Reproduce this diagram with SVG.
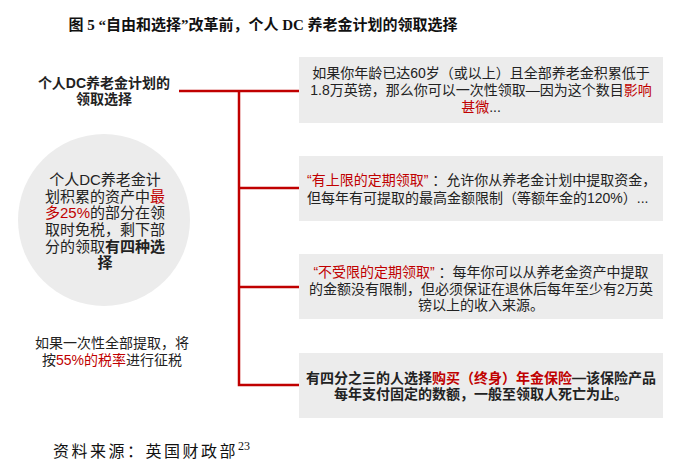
<svg xmlns="http://www.w3.org/2000/svg" width="691" height="466" viewBox="0 0 691 466">
<style>
.t{font-family:"Liberation Sans","Noto Sans CJK SC",sans-serif;font-size:14px;fill:#222}
.c{text-anchor:middle}
.r{fill:#c00000}
.b{font-weight:bold}
.box{fill:#ececec}
.ln{stroke:#c00000;stroke-width:2.5;fill:none}
.serif{font-family:"Liberation Serif","Noto Sans CJK SC",serif;fill:#111}
.ct{font-size:15px}
</style>
<rect width="691" height="466" fill="#fff"/>
<g id="title">
<text class="serif b" x="263" y="30" font-size="15" text-anchor="middle">图 5  “自由和选择”改革前，个人 DC 养老金计划的领取选择</text>
</g>
<g id="connectors">
<path class="ln" d="M179 91H299M239 91V385H299M239 188H299M239 287H299"/>
</g>
<g id="root">
<text class="t b c" x="104" y="88">个人DC养老金计划的</text>
<text class="t b c" x="104" y="104">领取选择</text>
</g>
<g id="circle">
<circle cx="104" cy="220" r="86" fill="#ececec"/>
<text class="t c ct" x="105" y="185">个人DC养老金计</text>
<text class="t c ct" x="105" y="202">划积累的资产中<tspan class="r">最</tspan></text>
<text class="t c ct" x="105" y="218"><tspan class="r">多25%</tspan>的部分在领</text>
<text class="t c ct" x="105" y="235">取时免税，剩下部</text>
<text class="t c ct" x="105" y="252">分的领取<tspan class="b">有四种选</tspan></text>
<text class="t c b ct" x="105" y="268">择</text>
</g>
<g id="note">
<text class="t c" x="112" y="348">如果一次性全部提取，将</text>
<text class="t c" x="112" y="365">按<tspan class="r">55%的税率</tspan>进行征税</text>
</g>
<g id="box1">
<rect class="box" x="299" y="57" width="364" height="66"/>
<text class="t c" x="481" y="78">如果你年龄已达60岁（或以上）且全部养老金积累低于</text>
<text class="t c" x="481" y="95">1.8万英镑，那么你可以一次性领取—因为这个数目<tspan class="r">影响</tspan></text>
<text class="t c" x="481" y="112"><tspan class="r">甚微</tspan>...</text>
</g>
<g id="box2">
<rect class="box" x="299" y="156" width="364" height="65"/>
<text class="t" x="307" y="185"><tspan class="r">“有上限的定期领取”</tspan>  ：允许你从养老金计划中提取资金，</text>
<text class="t" x="307" y="203">但每年有可提取的最高金额限制（等额年金的120%）...</text>
</g>
<g id="box3">
<rect class="box" x="299" y="254" width="364" height="65"/>
<text class="t c" x="481" y="277"><tspan class="r">“不受限的定期领取”</tspan>  ：每年你可以从养老金资产中提取</text>
<text class="t c" x="481" y="294">的金额没有限制，但必须保证在退休后每年至少有2万英</text>
<text class="t c" x="481" y="310">镑以上的收入来源。</text>
</g>
<g id="box4">
<rect class="box" x="299" y="353" width="364" height="65"/>
<text class="t c b" x="481" y="383">有四分之三的人选择<tspan class="r">购买（终身）年金保险</tspan>—该保险产品</text>
<text class="t c b" x="481" y="399">每年支付固定的数额，一般至领取人死亡为止。</text>
</g>
<g id="source">
<text class="serif" x="53" y="457" font-size="16" letter-spacing="2.5" fill="#1a1a33">资料来源：英国财政部<tspan font-size="12" dy="-7" letter-spacing="0">23</tspan></text>
</g>
</svg>
